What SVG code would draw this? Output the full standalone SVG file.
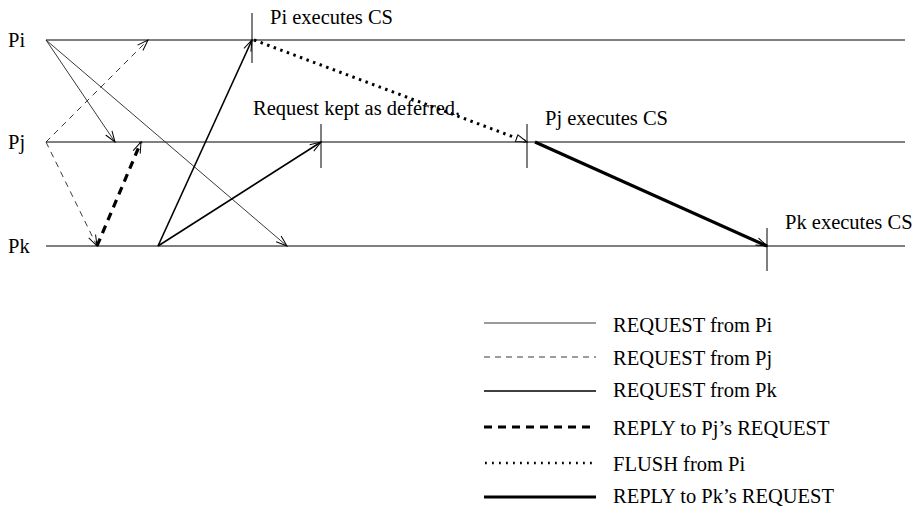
<svg xmlns="http://www.w3.org/2000/svg" width="913" height="507" viewBox="0 0 913 507">
<style>
text{font-family:"Liberation Serif","Times New Roman",serif;font-size:20.5px;fill:#000}
.proc{stroke:#000;stroke-width:1;fill:none}
.tick{stroke:#000;stroke-width:1}
.reqi{stroke:#222;stroke-width:0.9;fill:none}
.reqj{stroke:#222;stroke-width:0.9;stroke-dasharray:6 5;fill:none}
.reqk{stroke:#000;stroke-width:1.6;fill:none}
.repj{stroke:#000;stroke-width:3.2;stroke-dasharray:8 6;fill:none}
.flush{stroke:#000;stroke-width:3;stroke-dasharray:2.5 4.5;fill:none}
.repk{stroke:#000;stroke-width:3.2;fill:none}
</style>
<defs>
<marker id="av" markerUnits="userSpaceOnUse" markerWidth="14" markerHeight="10" viewBox="-12 -5 14 10" refX="0" refY="0" orient="auto">
<path d="M-11,-3.8 L0,0 L-11,3.8" fill="none" stroke="#000" stroke-width="1"/>
</marker>
<marker id="at" markerUnits="userSpaceOnUse" markerWidth="14" markerHeight="10" viewBox="-12 -5 14 10" refX="0" refY="0" orient="auto">
<path d="M-11,-3.5 L0,0 L-11,3.5 Z" fill="#fff" stroke="#000" stroke-width="1"/>
</marker>
</defs>
<g id="Pi">
<line class="proc" x1="46" y1="40" x2="905" y2="40"/>
<text x="8" y="47">Pi</text>
</g>
<g id="Pj">
<line class="proc" x1="46" y1="142" x2="905" y2="142"/>
<text x="8" y="149">Pj</text>
</g>
<g id="Pk">
<line class="proc" x1="46" y1="246" x2="905" y2="246"/>
<text x="8" y="253">Pk</text>
</g>
<g id="events">
<line class="tick" x1="252" y1="13" x2="252" y2="63"/>
<text x="270" y="24">Pi executes CS</text>
<line class="tick" x1="321" y1="124" x2="321" y2="168"/>
<text x="253" y="115">Request kept as deferred.</text>
<line class="tick" x1="527" y1="124" x2="527" y2="168"/>
<text x="545" y="125">Pj executes CS</text>
<line class="tick" x1="767" y1="228" x2="767" y2="271"/>
<text x="785" y="229">Pk executes CS</text>
</g>
<g id="connectors">
<line class="reqi" x1="46" y1="40" x2="115" y2="142" marker-end="url(#av)"/>
<line class="reqi" x1="46" y1="40" x2="287" y2="246" marker-end="url(#av)"/>
<line class="reqj" x1="46" y1="142" x2="148" y2="40" marker-end="url(#av)"/>
<line class="reqj" x1="46" y1="142" x2="97" y2="246" marker-end="url(#av)"/>
<line class="repj" x1="97" y1="246" x2="141" y2="142" marker-end="url(#av)"/>
<line class="reqk" x1="158" y1="246" x2="252" y2="40" marker-end="url(#av)"/>
<line class="reqk" x1="158" y1="246" x2="321" y2="142" marker-end="url(#av)"/>
<line class="flush" x1="254" y1="40" x2="527" y2="142" marker-end="url(#at)"/>
<line class="repk" x1="535" y1="142" x2="767" y2="246" marker-end="url(#av)"/>
</g>
<g id="legend">
<line class="reqi" x1="484" y1="323" x2="596" y2="323"/>
<text x="613" y="332">REQUEST from Pi</text>
<line class="reqj" x1="484" y1="357" x2="596" y2="357"/>
<text x="613" y="365">REQUEST from Pj</text>
<line class="reqk" x1="484" y1="391" x2="596" y2="391"/>
<text x="613" y="397">REQUEST from Pk</text>
<line class="repj" x1="484" y1="427" x2="596" y2="427"/>
<text x="613" y="435">REPLY to Pj’s REQUEST</text>
<line class="flush" x1="485" y1="463" x2="596" y2="463" style="stroke-width:2.5;stroke-dasharray:1.8 5.2"/>
<text x="613" y="471">FLUSH from Pi</text>
<line class="repk" x1="484" y1="497" x2="596" y2="497"/>
<text x="613" y="503">REPLY to Pk’s REQUEST</text>
</g>
</svg>
